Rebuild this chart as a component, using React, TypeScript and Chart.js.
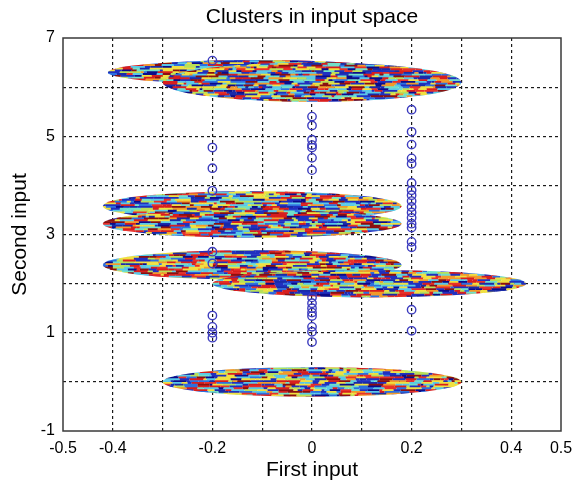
import { useEffect, useRef } from 'react';
import { Chart, registerables } from 'chart.js';

Chart.register(...registerables);

const titleText = 'Clusters in input space';
const xAxisLabel = 'First input';
const yAxisLabel = 'Second input';
const xTickLabels = ['-0.5', '-0.4', '-0.2', '0', '0.2', '0.4', '0.5'];
const yTickLabels = ['7', '5', '3', '1', '-1'];

// observed input samples (blue circles), one list per first-input column
const circleColumnX = [-0.2, 0, 0.2];
const circlesAtMinus02 = [6.54, 4.77, 4.35, 3.89, 2.65, 2.41, 1.35, 1.12, 1.0, 0.9];
const circlesAt0 = [5.4, 5.22, 4.93, 4.82, 4.77, 4.56, 4.31, 1.72, 1.6, 1.5, 1.41, 1.34, 1.12, 1.02, 0.81];
const circlesAt02 = [5.54, 5.09, 4.83, 4.55, 4.44, 4.05, 3.9, 3.8, 3.68, 3.56, 3.45, 3.34, 3.22, 3.14, 2.85, 2.74, 1.47, 1.04];

// cluster ellipses (centre and half-extents in data units)
const clusterCenterX = [-0.11, 0.0, -0.12, -0.12, -0.12, 0.115, 0.0];
const clusterCenterY = [6.3, 6.1, 3.58, 3.22, 2.38, 2.0, 0.0];
const clusterRadiusX = [0.3, 0.3, 0.3, 0.3, 0.3, 0.315, 0.3];
const clusterRadiusY = [0.25, 0.4, 0.3, 0.28, 0.3, 0.28, 0.3];

const FONT = '"Liberation Sans", Arial, Helvetica, sans-serif';
const texturePalette = [
  '#d81e1e', '#2030c0', '#0c0c8a', '#58c8e8', '#f0e040', '#f29a2a',
  '#8a1010', '#70e0c8', '#b8e058', '#2c70e0', '#d81e1e', '#2030c0',
  '#58c8e8', '#e8302a', '#1a2aa8', '#f0e040',
];

function mix(a: number, b: number, c: number): number {
  let h = Math.imul(a + 1, 374761393) ^ Math.imul(b + 7, 668265263) ^ Math.imul(c + 13, 1274126177);
  h = Math.imul(h ^ (h >>> 15), 2246822519);
  h = Math.imul(h ^ (h >>> 13), 3266489917);
  h ^= h >>> 16;
  return h >>> 0;
}

const clusterPlugin = {
  id: 'clusters',
  beforeDatasetsDraw(chart: any) {
    const { ctx, chartArea, scales } = chart;
    const xs = scales.x;
    const ys = scales.y;
    ctx.save();
    ctx.beginPath();
    ctx.rect(chartArea.left, chartArea.top, chartArea.right - chartArea.left, chartArea.bottom - chartArea.top);
    ctx.clip();
    for (let i = 0; i < clusterCenterX.length; i++) {
      const cx = xs.getPixelForValue(clusterCenterX[i]);
      const cy = ys.getPixelForValue(clusterCenterY[i]);
      const rx = Math.abs(xs.getPixelForValue(clusterCenterX[i] + clusterRadiusX[i]) - cx);
      const ry = Math.abs(ys.getPixelForValue(clusterCenterY[i] + clusterRadiusY[i]) - cy);
      ctx.save();
      ctx.beginPath();
      ctx.ellipse(cx, cy, rx, ry, 0, 0, Math.PI * 2);
      ctx.clip();
      ctx.lineWidth = 2.4;
      ctx.lineCap = 'butt';
      let row = 0;
      for (let y = cy - ry - 2; y <= cy + ry + 2; y += 1.8, row++) {
        let x = cx - rx - 12 - (mix(i, row, 999) % 10);
        let k = 0;
        while (x < cx + rx + 4) {
          const h = mix(i, row, k);
          const len = 3 + (h % 13);
          ctx.strokeStyle = texturePalette[(h >>> 8) % texturePalette.length];
          ctx.beginPath();
          ctx.moveTo(x, y);
          ctx.lineTo(x + len, y);
          ctx.stroke();
          x += len;
          k++;
        }
      }
      ctx.restore();
    }
    ctx.restore();
  },
};

const framePlugin = {
  id: 'frame',
  afterDraw(chart: any) {
    const { ctx, chartArea } = chart;
    ctx.save();
    ctx.strokeStyle = '#3a3a3a';
    ctx.lineWidth = 1.5;
    ctx.strokeRect(chartArea.left, chartArea.top, chartArea.right - chartArea.left, chartArea.bottom - chartArea.top);
    ctx.fillStyle = '#000';
    ctx.font = `21px ${FONT}`;
    ctx.textAlign = 'center';
    ctx.textBaseline = 'middle';
    ctx.fillText(titleText, (chartArea.left + chartArea.right) / 2, 9);
    ctx.restore();
  },
};

function fmt(v: number): string {
  const r = Math.round(v * 10) / 10;
  return String(r);
}

export default function App() {
  const ref = useRef<HTMLCanvasElement | null>(null);
  useEffect(() => {
    if (!ref.current) return;
    const circleStyle = {
      showLine: false,
      pointStyle: 'circle',
      pointRadius: 4.2,
      pointBorderWidth: 1.4,
      pointBorderColor: '#3c3cbe',
      pointBackgroundColor: 'rgba(0,0,0,0)',
    };
    const chart = new Chart(ref.current, {
      type: 'scatter',
      data: {
        datasets: [
          { ...circleStyle, data: circlesAtMinus02.map((y) => ({ x: circleColumnX[0], y })) },
          { ...circleStyle, data: circlesAt0.map((y) => ({ x: circleColumnX[1], y })) },
          { ...circleStyle, data: circlesAt02.map((y) => ({ x: circleColumnX[2], y })) },
        ],
      } as any,
      options: {
        animation: false,
        responsive: false,
        devicePixelRatio: 1,
        layout: { padding: { left: 0, right: 19, top: 30, bottom: 0 } },
        plugins: {
          legend: { display: false },
          tooltip: { enabled: false },
          title: { display: false },
        },
        scales: {
          x: {
            type: 'linear',
            min: -0.5,
            max: 0.5,
            afterFit(scale: any) {
              scale.height = 54;
              scale.paddingLeft = 0;
              scale.paddingRight = 0;
            },
            ticks: {
              stepSize: 0.1,
              autoSkip: false,
              maxRotation: 0,
              padding: 8,
              color: '#000',
              font: { family: FONT, size: 16 },
              callback: (v: any) => (xTickLabels.includes(fmt(Number(v))) ? fmt(Number(v)) : ''),
            },
            grid: {
              color: (c: any) => {
                const v = fmt(c.tick?.value ?? 0);
                return v === '-0.5' || v === '0.5' ? 'rgba(0,0,0,0)' : '#1a1a1a';
              },
              lineWidth: 1.2,
              drawTicks: false,
            },
            border: { display: false, dash: [3, 3] },
            title: {
              display: true,
              text: xAxisLabel,
              color: '#000',
              font: { family: FONT, size: 21 },
              padding: { top: 0, bottom: 2 },
            },
          },
          y: {
            type: 'linear',
            min: -1,
            max: 7,
            afterFit(scale: any) {
              scale.width = 55;
              scale.paddingTop = 0;
              scale.paddingBottom = 0;
            },
            ticks: {
              stepSize: 1,
              autoSkip: false,
              padding: 8,
              color: '#000',
              font: { family: FONT, size: 16 },
              callback: (v: any) => (yTickLabels.includes(fmt(Number(v))) ? fmt(Number(v)) : ''),
            },
            grid: {
              color: (c: any) => {
                const v = fmt(c.tick?.value ?? 0);
                return v === '-1' || v === '7' ? 'rgba(0,0,0,0)' : '#1a1a1a';
              },
              lineWidth: 1.2,
              drawTicks: false,
            },
            border: { display: false, dash: [3, 3] },
            title: {
              display: true,
              text: yAxisLabel,
              color: '#000',
              font: { family: FONT, size: 21 },
              padding: { top: 0, bottom: 0 },
            },
          },
        },
      } as any,
      plugins: [clusterPlugin, framePlugin],
    });
    return () => chart.destroy();
  }, []);
  return (
    <div style={{ width: 572, height: 477 }}>
      <canvas ref={ref} width={572} height={477} style={{ display: 'block' }} />
    </div>
  );
}
